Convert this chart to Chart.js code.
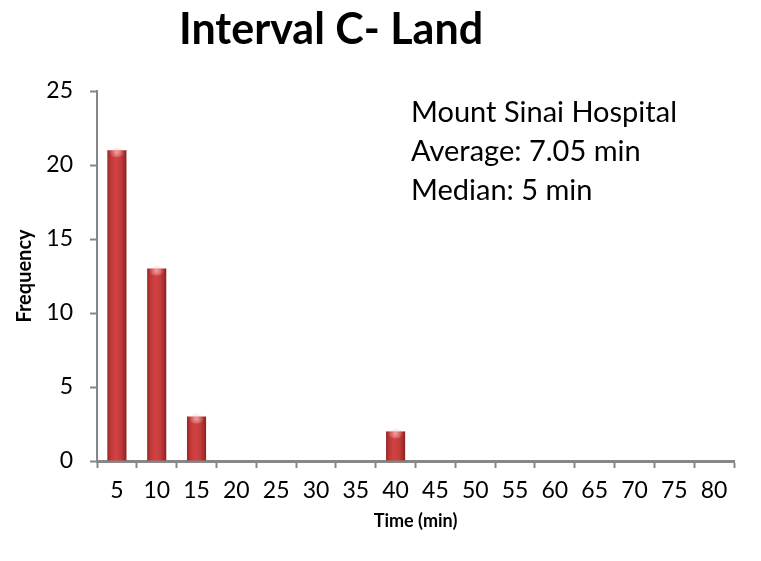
<!DOCTYPE html>
<html>
<head>
<meta charset="utf-8">
<script src="https://cdn.jsdelivr.net/npm/chart.js@4/dist/chart.umd.min.js"></script>
<style>
  html, body { margin: 0; padding: 0; background: #ffffff; }
  #wrap { width: 761px; height: 561px; }
</style>
</head>
<body>
<div id="wrap"><canvas id="c" width="761" height="561"></canvas></div>
<script>
// Time bins (minutes) along the x axis
const timeBins = ['5', '10', '15', '20', '25', '30', '35', '40', '45', '50', '55', '60', '65', '70', '75', '80'];
// Number of cases falling in each bin
const frequency = [21, 13, 3, 0, 0, 0, 0, 2, 0, 0, 0, 0, 0, 0, 0, 0];
// Frequency axis range
const yMax = 25;
const yStep = 5;
// Heading and the summary note
const chartTitle = 'Interval C- Land';
const noteLines = ['Mount Sinai Hospital', 'Average: 7.05 min', 'Median: 5 min'];

const BAR_PCT = 0.48;
const AXIS_GREY = '#878787';
const FONT = 'Lato, "Open Sans", "DejaVu Sans", sans-serif';

// Cylinder-like horizontal shading for each bar
function barFill(ctx) {
  const chart = ctx.chart;
  const xs = chart.scales && chart.scales.x;
  if (!chart.chartArea || !xs || ctx.type !== 'data') return '#c43c3c';
  const cx = xs.getPixelForValue(ctx.dataIndex);
  const w = (xs.width / timeBins.length) * BAR_PCT;
  const g = chart.ctx.createLinearGradient(cx - w / 2, 0, cx + w / 2, 0);
  g.addColorStop(0, '#962626');
  g.addColorStop(0.18, '#bf3838');
  g.addColorStop(0.42, '#d24242');
  g.addColorStop(0.7, '#c43b3b');
  g.addColorStop(0.9, '#a22b2b');
  g.addColorStop(1, '#862121');
  return g;
}

// Soft highlight on the top of each bar plus the heading and note text
const decorations = {
  id: 'decorations',
  afterDatasetsDraw(chart) {
    const c = chart.ctx;
    const meta = chart.getDatasetMeta(0);
    c.save();
    meta.data.forEach((bar, i) => {
      if (!frequency[i]) return;
      const w = bar.width;
      const g = c.createRadialGradient(bar.x, bar.y + 2, 0, bar.x, bar.y + 2, w * 0.4);
      g.addColorStop(0, 'rgba(255,200,200,0.7)');
      g.addColorStop(1, 'rgba(255,200,200,0)');
      c.fillStyle = g;
      c.beginPath();
      c.ellipse(bar.x, bar.y + 2, w * 0.4, 5, 0, 0, Math.PI * 2);
      c.fill();
    });
    c.restore();
  },
  afterDraw(chart) {
    const c = chart.ctx;
    c.save();
    c.fillStyle = '#000000';
    c.textBaseline = 'alphabetic';
    c.textAlign = 'center';
    c.font = 'bold 43px ' + FONT;
    c.fillText(chartTitle, 331, 44);
    c.textAlign = 'left';
    c.font = '29px ' + FONT;
    const baselines = [122, 161, 200];
    noteLines.forEach((t, i) => c.fillText(t, 411, baselines[i]));
    c.restore();
  }
};

new Chart(document.getElementById('c'), {
  type: 'bar',
  data: {
    labels: timeBins,
    datasets: [{
      label: 'Frequency',
      data: frequency,
      backgroundColor: barFill,
      borderWidth: 0,
      barPercentage: BAR_PCT,
      categoryPercentage: 1
    }]
  },
  options: {
    responsive: false,
    devicePixelRatio: 1,
    animation: false,
    layout: { padding: { top: 91, right: 27, left: 0, bottom: 0 } },
    plugins: {
      legend: { display: false },
      tooltip: { enabled: false },
      title: { display: false }
    },
    scales: {
      x: {
        offset: true,
        afterFit(scale) { scale.height = 100; },
        grid: {
          offset: true,
          drawOnChartArea: false,
          drawTicks: true,
          tickLength: 7,
          tickWidth: 2,
          color: AXIS_GREY
        },
        border: { display: true, color: AXIS_GREY, width: 3 },
        ticks: {
          color: '#000000',
          font: { family: FONT, size: 23 },
          padding: 9,
          maxRotation: 0,
          autoSkip: false
        },
        title: {
          display: true,
          text: 'Time (min)',
          color: '#000000',
          font: { family: FONT, size: 18, weight: 'bold' },
          padding: { top: 0, bottom: 29 }
        }
      },
      y: {
        min: 0,
        max: yMax,
        afterFit(scale) { scale.width = 97; },
        grid: {
          drawOnChartArea: false,
          drawTicks: true,
          tickLength: 7,
          tickWidth: 2,
          color: AXIS_GREY
        },
        border: { display: true, color: AXIS_GREY, width: 2 },
        ticks: {
          stepSize: yStep,
          color: '#000000',
          font: { family: FONT, size: 23 },
          padding: 17
        },
        title: {
          display: true,
          text: 'Frequency',
          color: '#000000',
          font: { family: FONT, size: 20, weight: 'bold' },
          padding: { top: 13, bottom: 0 }
        }
      }
    }
  },
  plugins: [decorations]
});
</script>
</body>
</html>
